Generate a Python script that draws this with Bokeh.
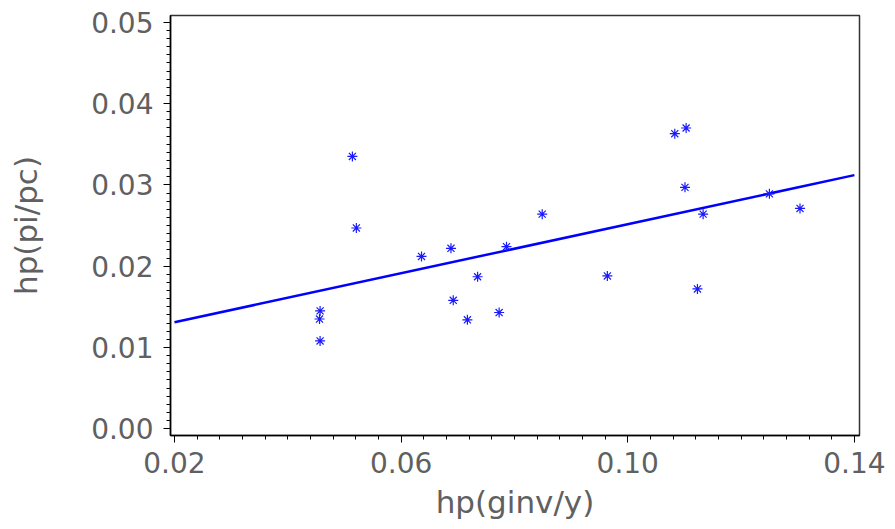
from bokeh.plotting import figure
from bokeh.models import FixedTicker, Range1d
from bokeh.embed import file_html
from bokeh.resources import INLINE
import numpy as np

# data
ginv_y = [0.0457, 0.0456, 0.0457, 0.0514, 0.0521, 0.0636, 0.0688, 0.0735,
          0.0692, 0.0717, 0.0773, 0.0786, 0.0849, 0.0964, 0.1083, 0.1103,
          0.1101, 0.1133, 0.1123, 0.1250, 0.1304]
pi_pc = [0.0145, 0.0135, 0.0108, 0.0335, 0.0247, 0.0212, 0.0222, 0.0187,
         0.0158, 0.0134, 0.0143, 0.0224, 0.0264, 0.0188, 0.0363, 0.0370,
         0.0297, 0.0264, 0.0172, 0.0289, 0.0271]
fit_x = [0.02, 0.14]
fit_y = [0.0131, 0.0312]

x_ticks = [0.02, 0.06, 0.10, 0.14]
x_tick_labels = ["0.02", "0.06", "0.10", "0.14"]
y_ticks = [0.00, 0.01, 0.02, 0.03, 0.04, 0.05]
y_tick_labels = ["0.00", "0.01", "0.02", "0.03", "0.04", "0.05"]
x_title = "hp(ginv/y)"
y_title = "hp(pi/pc)"

FONT = "DejaVu Sans"
TXT = "#606060"

p = figure(width=895, height=529, output_backend="svg", toolbar_location=None,
           x_range=Range1d(0.0193, 0.1409), y_range=Range1d(-0.00083, 0.05084),
           min_border_left=170, min_border_right=36, min_border_top=15,
           min_border_bottom=94)

p.line(fit_x, fit_y, line_color="#0000ff", line_width=2.5)
p.scatter(ginv_y, pi_pc, marker="asterisk", size=10, line_color="#1a1aff",
          line_width=1.2)

p.grid.visible = False
p.outline_line_color = "#333333"
p.outline_line_width = 1.5

x_minor = [round(v, 4) for v in np.arange(0.02, 0.1401, 0.004)]
y_minor = [round(v, 4) for v in np.arange(0.0, 0.05001, 0.001)]
p.xaxis.ticker = FixedTicker(ticks=x_ticks, minor_ticks=x_minor)
p.yaxis.ticker = FixedTicker(ticks=y_ticks, minor_ticks=y_minor)
p.xaxis.major_label_overrides = dict(zip(x_ticks, x_tick_labels))
p.yaxis.major_label_overrides = dict(zip(y_ticks, y_tick_labels))

for ax in (p.xaxis[0], p.yaxis[0]):
    ax.axis_line_color = "black"
    ax.axis_line_width = 1.5
    ax.major_tick_line_color = "black"
    ax.minor_tick_line_color = "black"
    ax.major_tick_in = 0
    ax.minor_tick_in = 0
    ax.major_tick_out = 7
    ax.minor_tick_out = 4
    ax.major_label_text_font = FONT
    ax.major_label_text_font_size = "28px"
    ax.major_label_text_color = TXT
    ax.axis_label_text_font = FONT
    ax.axis_label_text_font_size = "31px"
    ax.axis_label_text_font_style = "normal"
    ax.axis_label_text_color = TXT

p.xaxis.axis_label = x_title
p.yaxis.axis_label = y_title
p.xaxis.major_label_standoff = 9
p.xaxis.axis_label_standoff = 8
p.yaxis.major_label_standoff = 10
p.yaxis.axis_label_standoff = 44

open("out.html", "w").write(file_html(p, INLINE))
